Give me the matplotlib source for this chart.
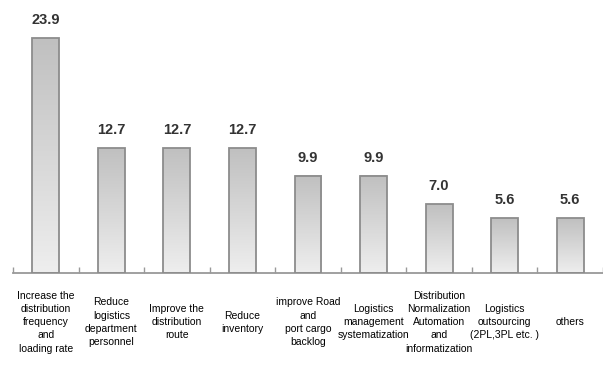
import numpy as np
import matplotlib
matplotlib.use("Agg")
import matplotlib.pyplot as plt
from matplotlib.colors import LinearSegmentedColormap

categories = [
    "Increase the\ndistribution\nfrequency\nand\nloading rate",
    "Reduce\nlogistics\ndepartment\npersonnel",
    "Improve the\ndistribution\nroute",
    "Reduce\ninventory",
    "improve Road\nand\nport cargo\nbacklog",
    "Logistics\nmanagement\nsystematization",
    "Distribution\nNormalization\nAutomation\nand\ninformatization",
    "Logistics\noutsourcing\n(2PL,3PL etc. )",
    "others",
]
values = [23.9, 12.7, 12.7, 12.7, 9.9, 9.9, 7.0, 5.6, 5.6]

plt.rcParams["font.family"] = ["Liberation Sans", "DejaVu Sans"]

fig = plt.figure(figsize=(6.03, 3.68), dpi=100)
ax = fig.add_axes([13 / 603, 95 / 368, 590 / 603, 273 / 368])

cmap = LinearSegmentedColormap.from_list("g", ["#eeeeee", "#c0c0c0"])
grad = np.linspace(0, 1, 100).reshape(-1, 1)
w = 0.41
x = np.arange(len(values))

for xi, v in zip(x, values):
    ax.imshow(grad, extent=[xi - w / 2, xi + w / 2, 0, v], origin="lower",
              cmap=cmap, aspect="auto", zorder=2)
bars = ax.bar(x, values, width=w, facecolor="none", edgecolor="#8c8c8c",
              linewidth=1.3, zorder=3)

for xi, v in zip(x, values):
    ax.text(xi, v + 1.1, f"{v:.1f}", ha="center", va="bottom",
            fontsize=10.5, fontweight="bold", color="#333333")

for xi, lab in zip(x, categories):
    ax.text(xi, -5.0, lab, ha="center", va="center", fontsize=7.5,
            color="#000000", linespacing=1.4)

ax.set_xlim(-0.5, len(values) - 0.5)
ax.set_ylim(0, 27.8)
ax.set_xticks(np.arange(-0.5, len(values), 1.0))
ax.set_xticklabels([])
ax.set_yticks([])
ax.tick_params(axis="x", direction="in", length=4, color="#999999", width=1)
for s in ["top", "right", "left"]:
    ax.spines[s].set_visible(False)
ax.spines["bottom"].set_color("#999999")
ax.spines["bottom"].set_linewidth(1.3)

fig.savefig("out.png", dpi=100)
